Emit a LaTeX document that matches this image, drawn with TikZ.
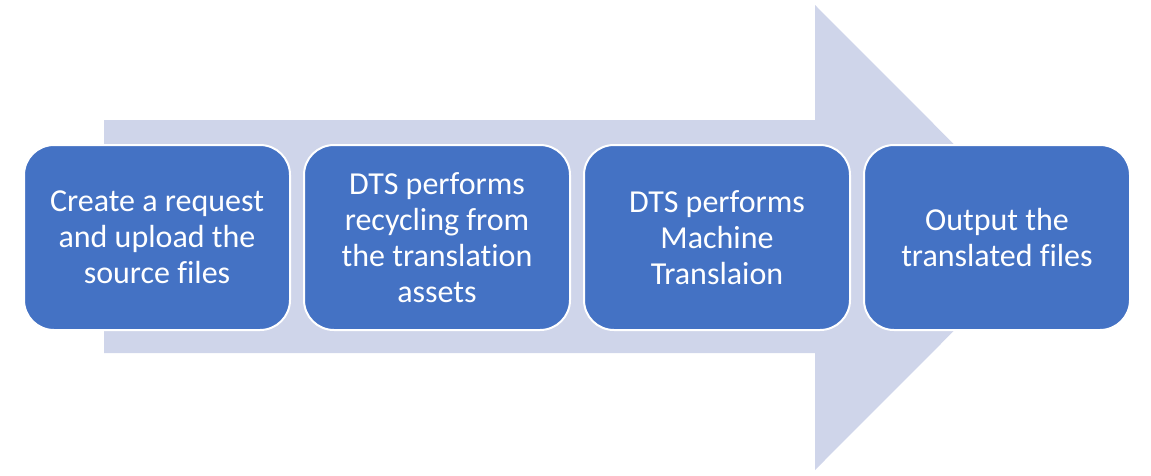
\documentclass[tikz,border=0pt]{standalone}
\usepackage{fontspec}
\setmainfont{Carlito}[Ligatures = NoCommon]
\usetikzlibrary{positioning}
\definecolor{stepblue}{HTML}{4472C4}
\definecolor{arrowgrey}{HTML}{CFD5EA}
\tikzset{
	stepbox/.style = {rectangle, rounded corners = 30pt, fill = stepblue, draw = white,
		line width = 2pt, minimum width = 266pt, minimum height = 185pt,
		text = white, align = center, inner sep = 0pt,
		font = \fontsize{32pt}{36pt}\selectfont}
}

\begin{document}
\begin{tikzpicture}[x = 1pt, y = -1pt]
\useasboundingbox (0, 0) rectangle (1151, 475);

% the big arrow behind the steps
\fill[arrowgrey] (104, 120) -- (815, 120) -- (815, 5) -- (1047, 237.5)
	-- (815, 470) -- (815, 353) -- (104, 353) -- cycle;

% steps
\node[stepbox] (request) at (157, 237.5)
{Create a request\\and upload the\\source files};
\node[stepbox, right = 12pt of request] (recycling)
{DTS performs\\recycling from\\the translation\\assets};
\node[stepbox, right = 12pt of recycling] (machine)
{DTS performs\\Machine\\Translaion};
\node[stepbox, right = 12pt of machine] (output)
{Output the\\translated files};

\end{tikzpicture}
\end{document}
